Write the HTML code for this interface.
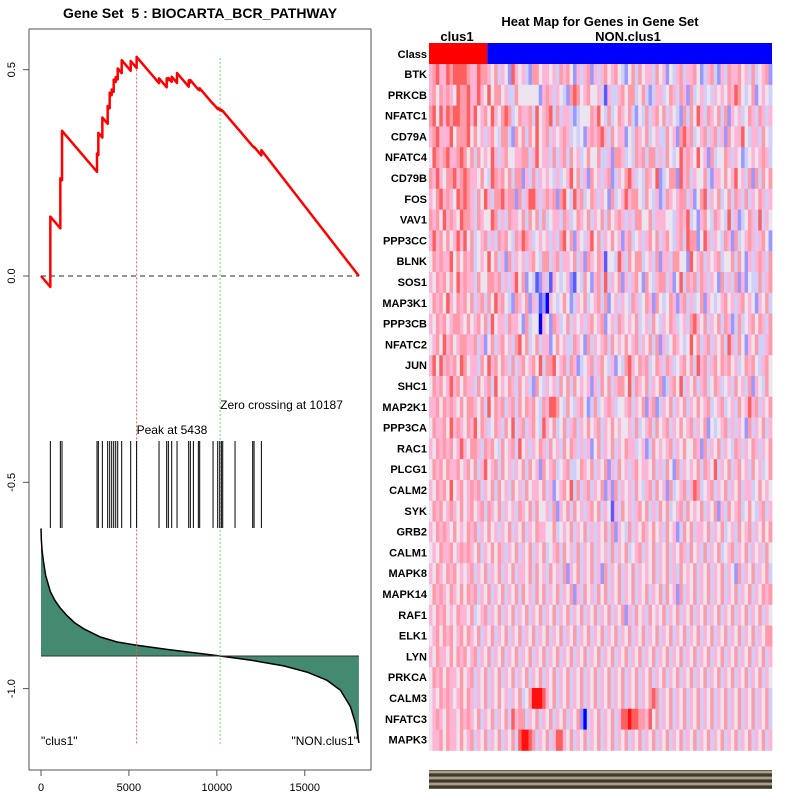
<!DOCTYPE html>
<html><head><meta charset="utf-8"><style>
html,body{margin:0;padding:0;background:#fff;}
svg{display:block;font-family:"Liberation Sans",sans-serif;}
</style></head><body>
<svg id="c" width="800" height="800" xmlns="http://www.w3.org/2000/svg">
<rect width="800" height="800" fill="#fff"/>
<text x="200" y="18" text-anchor="middle" font-size="14" font-weight="bold">Gene Set&#160;&#160;5 : BIOCARTA_BCR_PATHWAY</text>
<rect x="29" y="29" width="342" height="741" fill="none" stroke="#555" stroke-width="1"/>
<g id="left"></g>
<text x="600" y="26" text-anchor="middle" font-size="13" font-weight="bold">Heat Map for Genes in Gene Set</text>
<text x="457" y="41" text-anchor="middle" font-size="13" font-weight="bold">clus1</text>
<text x="628" y="41" text-anchor="middle" font-size="13" font-weight="bold">NON.clus1</text>
<g id="heat"></g>
</svg>
<script>
// ---- Enrichment data ----
const hitRanks=[531,1100,1195,3185,3261,3489,3792,3906,4020,4134,4248,4362,4589,5101,5438,6712,7148,7243,7432,7736,8399,8494,8665,8949,9025,9784,10049,10163,10258,10334,11035,12040,12116,12533];
const esAfterHit=[0.144,0.237,0.352,0.297,0.347,0.384,0.412,0.444,0.452,0.476,0.482,0.503,0.523,0.521,0.531,0.479,0.479,0.480,0.483,0.492,0.474,0.475,0.466,0.454,0.455,0.418,0.408,0.405,0.403,0.400,0.365,0.315,0.313,0.305];
const missSlope=5.0e-5;
const totalGenes=18080;
const metricRanks=[0,20,60,133,260,531,800,1100,1480,1900,2430,3375,4330,5461,7150,9050,10187,11910,13800,15130,16270,17030,17600,17890,18000,18080];
const metricValues=[-0.612,-0.640,-0.665,-0.690,-0.725,-0.765,-0.787,-0.805,-0.823,-0.840,-0.855,-0.875,-0.887,-0.895,-0.905,-0.915,-0.921,-0.931,-0.945,-0.960,-0.980,-1.004,-1.044,-1.085,-1.110,-1.132];
const metricBaseline=-0.921;
const xTicks=[0,5000,10000,15000];
const yTicks=[0.5,0.0,-0.5,-1.0];
const yTickLabels=["0.5","0.0","-0.5","-1.0"];
const peakRank=5438, zeroCross=10187;

const NS="http://www.w3.org/2000/svg";
function xs(r){return 41+r*0.017584;}
function ys(v){return 276-v*412.6;}
function mk(tag,attrs,parent){const e=document.createElementNS(NS,tag);for(const k in attrs)e.setAttribute(k,attrs[k]);parent.appendChild(e);return e;}
const L=document.getElementById('left');

xTicks.forEach(t=>{
  const tk=mk('line',{x1:xs(t),x2:xs(t),y1:770,y2:776,stroke:'#555'},L);
  
  
  const tx=mk('text',{x:xs(t),y:791,'text-anchor':'middle','font-size':11},L);
  tx.textContent=String(t);
  
  
});
yTicks.forEach((t,i)=>{
  const tk=mk('line',{x1:23,x2:29,y1:ys(t),y2:ys(t),stroke:'#555'},L);
  
  
  const tx=mk('text',{x:0,y:0,'text-anchor':'middle','font-size':11,transform:`translate(15,${ys(t)}) rotate(-90)`},L);
  tx.textContent=yTickLabels[i];
  
  
});

let area=`M${xs(metricRanks[0])},${ys(metricBaseline)}`;
metricRanks.forEach((r,i)=>{area+=` L${xs(r)},${ys(metricValues[i])}`;});
area+=` L${xs(metricRanks[metricRanks.length-1])},${ys(metricBaseline)} Z`;
const ar=mk('path',{d:area,fill:'#438a70'},L);


let ln='';
metricRanks.forEach((r,i)=>{ln+=(i?' L':'M')+xs(r)+','+ys(metricValues[i]);});
const ml=mk('path',{d:ln,fill:'none',stroke:'#000','stroke-width':1.5,'stroke-linejoin':'round'},L);


const bl=mk('line',{x1:xs(0),x2:xs(totalGenes),y1:ys(metricBaseline),y2:ys(metricBaseline),stroke:'#333','stroke-width':1},L);



const zl=mk('line',{x1:xs(0),x2:xs(totalGenes),y1:ys(0),y2:ys(0),stroke:'#555','stroke-width':1.3,'stroke-dasharray':'5,4'},L);



const pl=mk('line',{x1:xs(peakRank),x2:xs(peakRank),y1:ys(0.53)+4,y2:744,stroke:'#f55','stroke-width':1,'stroke-dasharray':'2,2'},L);


const zc=mk('line',{x1:xs(zeroCross),x2:xs(zeroCross),y1:58,y2:744,stroke:'#6d6','stroke-width':1,'stroke-dasharray':'2,2'},L);



hitRanks.forEach(r=>{
  const h=mk('line',{x1:xs(r),x2:xs(r),y1:441,y2:528,stroke:'#000','stroke-width':1},L);
  
  
});

let d=`M${xs(0)},${ys(0)}`;let prevR=0,prevV=0;
hitRanks.forEach((r,i)=>{const pre=prevV-missSlope*(r-prevR);d+=` L${xs(r)},${ys(pre)} L${xs(r)},${ys(esAfterHit[i])}`;prevR=r;prevV=esAfterHit[i];});
d+=` L${xs(totalGenes)},${ys(0)}`;
const es=mk('path',{d:d,fill:'none',stroke:'#f00','stroke-width':2.5,'stroke-linejoin':'round'},L);



[[`Peak at ${peakRank}`,xs(peakRank),434,'peak-label','start'],[`Zero crossing at ${zeroCross}`,xs(zeroCross),409,'zero-crossing-label','start'],['"clus1"',41,745,'clus1-label','start'],['"NON.clus1"',358,745,'non-clus1-label','end']].forEach(a=>{
  const t=mk('text',{x:a[1],y:a[2],'font-size':12,'text-anchor':a[4]},L);t.textContent=a[0];
  
  
});

// ---- Heatmap ----
const genes=["BTK","PRKCB","NFATC1","CD79A","NFATC4","CD79B","FOS","VAV1","PPP3CC","BLNK","SOS1","MAP3K1","PPP3CB","NFATC2","JUN","SHC1","MAP2K1","PPP3CA","RAC1","PLCG1","CALM2","SYK","GRB2","CALM1","MAPK8","MAPK14","RAF1","ELK1","LYN","PRKCA","CALM3","NFATC3","MAPK3"];
const nClus1=17;
const heatRows=[
"5675576777765576654635427545326645545365642535625356456432463645536452435635564235632536556453634562",
"5646565476675575474664533644444425653543267645644531533564663463235534653652634534354546576434624543",
"6747576776675745647546763465563745673635532344465743634654632436356463543263647536546362545346536535",
"5675557466674645356436632646364745635456534342565675364552436546345336452675634563563526455743553643",
"4765675567646364547535644556635745536356364534644633526653436563663536434756547452634465354234545653",
"6575466756765546437656463662536354543534574635264535623546753436547234662756354463255464574536263646",
"5467565476765364753667566263577535656267437563465354263457566436435236545663524673546346365363546535",
"6564756547665365447635365546364636345536534654635463645653536644635554435657342564365437352346537354",
"5756464575746345635365643657653454535367462543574635464525634535646356435637662475354365263456535642",
"4656557464656345474635263545356436635635546352654651443753646634536255366442745635456344636425356536",
"5465646475655364466563535746243125315434521436425637354625356426435663524736563653542635362524336356",
"4656475465646356364756432654625312054346423546345636245354365346526434652563534625434564535645425463",
"5465645665464564637455365542634405426534635453564562453654546345364354653453675463546365236345646536",
"4564756456655635246356453674634635524645336542635456364546456354636253465434746356354637536425463356",
"5747565647645536475646536356456473667456365234563564352436754656346536534564637563564656453465643564",
"4656457564655364563745465364532643545364636454525364635664736546354623564735463563465345364536254364",
"5564656546466546374656356364656436577643643564236345653445635462562354635463546456345634536457563546",
"4655647565465746534653647356356437546346356354645635464544536345636456354645635462434563535426354635",
"5465656457546653656436456374535465364536465353524635463546553452364545635464465263546354365354653546",
"4656465564564635745636453546364526456345633465463546253645356455463536426354546365473546356453645346",
"5465647456456563546364536453645546352456473635635462526354536435636452634563576345635463546355346454",
"4656456546456456365463545365463644536254636453564635415364535646353646345636454635462536456346435635",
"5465654645465635464535463546354655446345463546353546362543635465464536452364635546354634536456354646",
"4546556456565463546465354635463546345636453635463545363546345635463546354653645363546345635463545364",
"5465465645456354635463546355463645364536254635463526354635463545463546353645463546354635426354635463",
"4656546546465635463546354636453646354635462536453646354635463546354636452635463546354635463546354656",
"5465645465546345635463546354635463546354635463546354635462536453645463546354635463546354635463546354",
"4564656456465463546354635463546354635463546354635463546354635463546354635463546354635463546354635466",
"5465546465645635463546354635463546354635463546354635463546354635463546354635463546354635463546354635",
"4656465546456354635463546354635463546354635463546354635463546354635463546354635463546354635463546354",
"4546565456465354635464535463468887546354635463546354635463546354676354635463546354635463546354635463",
"4565465546565463546354637566354635463546354620354635463577877665746354635463546354635463546354635463",
"4556465546456354635463546378876354635775463546354635463546354635463546354635463546354635463546354635"
];
const palette=["#0000ff","#5a5aff","#9898ff","#cfcff8","#ece4ee","#ffb4d6","#ff9aa8","#ff5e5e","#ff1010"];
const H=document.getElementById('heat');
const hx0=429,hx1=772,hy0=64,rowH=20.8;
const nCols=heatRows[0].length;
const cw=(hx1-hx0)/nCols;
const cr1=mk('rect',{x:hx0,y:43,width:nClus1*cw,height:21,fill:'#f00'},H);


const cr2=mk('rect',{x:hx0+nClus1*cw,y:43,width:(nCols-nClus1)*cw,height:21,fill:'#00f'},H);


const clt=mk('text',{x:427,y:58,'text-anchor':'end','font-size':11,'font-weight':'bold'},H);clt.textContent='Class';


heatRows.forEach((row,ri)=>{
  for(let ci=0;ci<nCols;ci++){
    const c=mk('rect',{x:hx0+ci*cw,y:hy0+ri*rowH,width:cw+0.4,height:rowH+0.4,fill:palette[+row[ci]]},H);
    
    
  }
  const t=mk('text',{x:427,y:hy0+ri*rowH+14,'text-anchor':'end','font-size':11,'font-weight':'bold'},H);
  t.textContent=genes[ri];
  
  
});
const sb=mk('rect',{x:hx0,y:770,width:hx1-hx0,height:19,fill:'#6a6050'},H);


for(let k=0;k<6;k++){
  const s=mk('line',{x1:hx0,x2:hx1,y1:772+k*3,y2:772+k*3,stroke:k%2?'#111':'#e8e0c0','stroke-width':1},H);
  
  
}
</script>
</body></html>
